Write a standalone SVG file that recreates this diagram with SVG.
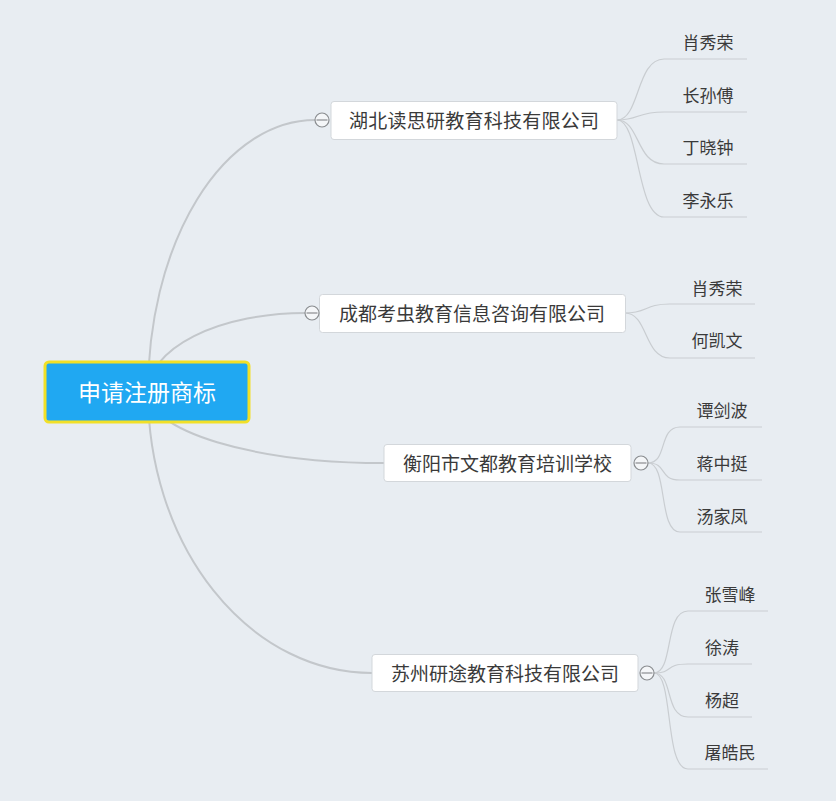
<svg xmlns="http://www.w3.org/2000/svg" width="836" height="801" viewBox="0 0 836 801">
<style>
.conn{fill:none;stroke:#c3c7cb;stroke-width:2}
.leafc{fill:none;stroke:#c9cdd1;stroke-width:1.2}
.box{fill:#ffffff;stroke:#d3d7db;stroke-width:1}
.bt{font-family:"Noto Sans CJK SC","Noto Sans",sans-serif;font-size:19px;fill:#3a3a3a;text-anchor:middle;dominant-baseline:central}
.lt{font-family:"Noto Sans CJK SC","Noto Sans",sans-serif;font-size:17px;fill:#3a3a3a;text-anchor:middle;dominant-baseline:central}
.tog circle{fill:#f4f6f8;stroke:#8a8d90;stroke-width:1.2}
.tog line{stroke:#8a8d90;stroke-width:1.2}
</style>
<rect x="0" y="0" width="836" height="801" fill="#e8edf2"/>
<g id="connectors">
<path class="conn" d="M148 392 A167 272 0 0 1 315 120"/>
<path class="conn" d="M148 392 A157 79 0 0 1 305 313"/>
<path class="conn" d="M148 392 A236 71 0 0 0 384 463"/>
<path class="conn" d="M148 392 A224 281 0 0 0 372 673"/>
<path class="leafc" d="M617 120 C640 120 636 59 664 59 L747 59"/>
<path class="leafc" d="M617 120 C640 120 636 112 664 112 L747 112"/>
<path class="leafc" d="M617 120 C640 120 636 164 664 164 L747 164"/>
<path class="leafc" d="M617 120 C640 120 636 217 664 217 L747 217"/>
<path class="leafc" d="M625 313 C648 313 644 304 670 304 L755 304"/>
<path class="leafc" d="M625 313 C648 313 644 358 670 358 L755 358"/>
<path class="leafc" d="M648 463 C668 463 658 427 680 427 L762 427"/>
<path class="leafc" d="M648 463 C668 463 658 480 680 480 L762 480"/>
<path class="leafc" d="M648 463 C668 463 658 532 680 532 L762 532"/>
<path class="leafc" d="M654 673 C674 673 664 611 688 611 L768 611"/>
<path class="leafc" d="M654 673 C674 673 664 664 688 664 L752 664"/>
<path class="leafc" d="M654 673 C674 673 664 717 688 717 L752 717"/>
<path class="leafc" d="M654 673 C674 673 664 769 688 769 L768 769"/>
</g>
<g id="root">
<rect x="45" y="362" width="204" height="60" rx="4" fill="#20a8f2" stroke="#f1e028" stroke-width="3"/>
<text x="147" y="391" font-family="'Noto Sans CJK SC','Noto Sans',sans-serif" font-size="23" fill="#ffffff" text-anchor="middle" dominant-baseline="central">申请注册商标</text>
</g>
<g id="b1">
<rect class="box" x="331" y="101.5" width="286" height="38" rx="3"/>
<text class="bt" x="474" y="119.5" textLength="250">湖北读思研教育科技有限公司</text>
<g class="tog"><circle cx="322" cy="120" r="7"/><line x1="316.5" y1="120" x2="327.5" y2="120"/></g>
</g>
<g id="b2">
<rect class="box" x="319.5" y="294.5" width="306" height="38" rx="3"/>
<text class="bt" x="472" y="312.5">成都考虫教育信息咨询有限公司</text>
<g class="tog"><circle cx="312" cy="313" r="7"/><line x1="306.5" y1="313" x2="317.5" y2="313"/></g>
</g>
<g id="b3">
<rect class="box" x="384" y="444.5" width="247" height="37" rx="3"/>
<text class="bt" x="507.5" y="462">衡阳市文都教育培训学校</text>
<g class="tog"><circle cx="641" cy="463" r="7"/><line x1="635.5" y1="463" x2="646.5" y2="463"/></g>
</g>
<g id="b4">
<rect class="box" x="372" y="654.5" width="266" height="37" rx="3"/>
<text class="bt" x="505" y="672">苏州研途教育科技有限公司</text>
<g class="tog"><circle cx="647" cy="673" r="7"/><line x1="641.5" y1="673" x2="652.5" y2="673"/></g>
</g>
<g id="l1a"><text class="lt" x="708" y="41">肖秀荣</text></g>
<g id="l1b"><text class="lt" x="708" y="94">长孙傅</text></g>
<g id="l1c"><text class="lt" x="708" y="146">丁晓钟</text></g>
<g id="l1d"><text class="lt" x="708" y="199">李永乐</text></g>
<g id="l2a"><text class="lt" x="717" y="287">肖秀荣</text></g>
<g id="l2b"><text class="lt" x="717" y="339">何凯文</text></g>
<g id="l3a"><text class="lt" x="722" y="409">谭剑波</text></g>
<g id="l3b"><text class="lt" x="722" y="462">蒋中挺</text></g>
<g id="l3c"><text class="lt" x="722" y="515">汤家凤</text></g>
<g id="l4a"><text class="lt" x="730" y="593">张雪峰</text></g>
<g id="l4b"><text class="lt" x="722" y="646">徐涛</text></g>
<g id="l4c"><text class="lt" x="722" y="699">杨超</text></g>
<g id="l4d"><text class="lt" x="730" y="751">屠皓民</text></g>
</svg>
